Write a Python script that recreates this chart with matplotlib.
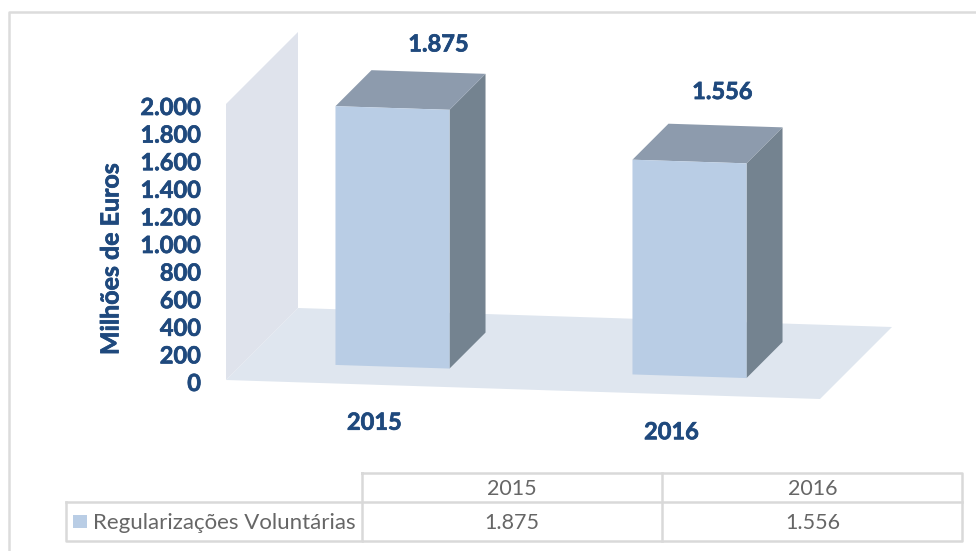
import numpy as np
import matplotlib
matplotlib.use('Agg')
import matplotlib.pyplot as plt
import matplotlib.patheffects as pe
from matplotlib.patches import Polygon, Rectangle

# Data
categories = ['2015', '2016']
values = [1875, 1556]
value_labels = ['1.875', '1.556']
axis_ticks = [0, 200, 400, 600, 800, 1000, 1200, 1400, 1600, 1800, 2000]
axis_labels = ['0', '200', '400', '600', '800', '1.000', '1.200', '1.400', '1.600', '1.800', '2.000']
series_name = 'Regularizações Voluntárias'
y_title = 'Milhões de Euros'

# Colours
navy = '#1F497D'
grey_text = '#666666'
grid_col = '#D9D9D9'
wall_col = '#DFE3EC'
floor_col = '#DFE6EF'
front_col = '#B9CDE5'
top_col = '#8D9BAD'
side_col = '#748390'

plt.rcParams['font.family'] = ['Lato', 'DejaVu Sans']

# Slightly heavier strokes, the reference bold is thicker than Lato Bold
heavy = [pe.withStroke(linewidth=0.5, foreground=navy)]


def project(u, d, v):
    # u along the category axis, d depth into the chart, v the value
    x = 226 + 594 * u + 72 * d
    y = 380 + 19 * u - 72 * d - v * 276 / 2000
    return (x, y)


def box_faces(u0, u1, d0, d1, v):
    front = [project(u0, d0, 0), project(u1, d0, 0), project(u1, d0, v), project(u0, d0, v)]
    side = [project(u1, d0, 0), project(u1, d1, 0), project(u1, d1, v), project(u1, d0, v)]
    top = [project(u0, d0, v), project(u1, d0, v), project(u1, d1, v), project(u0, d1, v)]
    return front, side, top


fig = plt.figure(figsize=(9.76, 5.51), dpi=100)
ax = fig.add_axes([0, 0, 1, 1])
ax.set_xlim(0, 976)
ax.set_ylim(551, 0)
ax.axis('off')

# Outer frame of the chart
ax.plot([9, 9, 976], [551, 12, 12], color='#DCDCDC', lw=1.8)

# Wall and floor
ax.add_patch(Polygon([project(0, 0, 0), project(0, 1, 0), project(0, 1, 2000), project(0, 0, 2000)],
                     fc=wall_col, ec='none'))
ax.add_patch(Polygon([project(0, 0, 0), project(1, 0, 0), project(1, 1, 0), project(0, 1, 0)],
                     fc=floor_col, ec='none'))

# Bars
label_shift = [(28, -46), (15, -52)]
for i, val in enumerate(values):
    u_mid = (i + 0.5) / len(values)
    front, side, top = box_faces(u_mid - 0.096, u_mid + 0.096, 0.25, 0.75, val)
    ax.add_patch(Polygon(side, fc=side_col, ec='none'))
    ax.add_patch(Polygon(top, fc=top_col, ec='none'))
    ax.add_patch(Polygon(front, fc=front_col, ec='none'))

    lx, ly = project(u_mid, 0.5, val)
    ax.text(lx + label_shift[i][0], ly + label_shift[i][1], value_labels[i], color=navy,
            fontsize=17, fontweight='bold', ha='center', va='center', path_effects=heavy)
    cx, cy = project(u_mid, 0, 0)
    ax.text(cx, cy + 37.5, categories[i], color=navy, fontsize=17, fontweight='bold',
            ha='center', va='center', path_effects=heavy)

# Value axis labels
for tick, lab in zip(axis_ticks, axis_labels):
    x, y = project(0, 0, tick)
    ax.text(x - 25, y + 3.5, lab, color=navy, fontsize=17, fontweight='bold', ha='right', va='center',
            path_effects=heavy)
ax.text(111, 259, y_title, color=navy, fontsize=18, fontweight='bold', rotation=90,
        ha='center', va='center', path_effects=heavy)

# Data table under the chart
ax.plot([362, 962, 962, 362, 362], [473, 473, 541, 541, 473], color=grid_col, lw=1.8)
ax.plot([66, 962], [502, 502], color=grid_col, lw=1.8)
ax.plot([66, 66, 362], [502, 541, 541], color=grid_col, lw=1.8)
ax.plot([662, 662], [473, 541], color=grid_col, lw=1.8)

ax.add_patch(Rectangle((73, 515), 14, 13, fc=front_col, ec='none'))
ax.text(93, 523, series_name, color=grey_text, fontsize=16, ha='left', va='center')
for i, (cat, lab) in enumerate(zip(categories, value_labels)):
    col_x = 512 + 300.5 * i
    ax.text(col_x, 489, cat, color=grey_text, fontsize=15.5, ha='center', va='center')
    ax.text(col_x, 523, lab, color=grey_text, fontsize=15.5, ha='center', va='center')

fig.savefig('out.png', dpi=100)
